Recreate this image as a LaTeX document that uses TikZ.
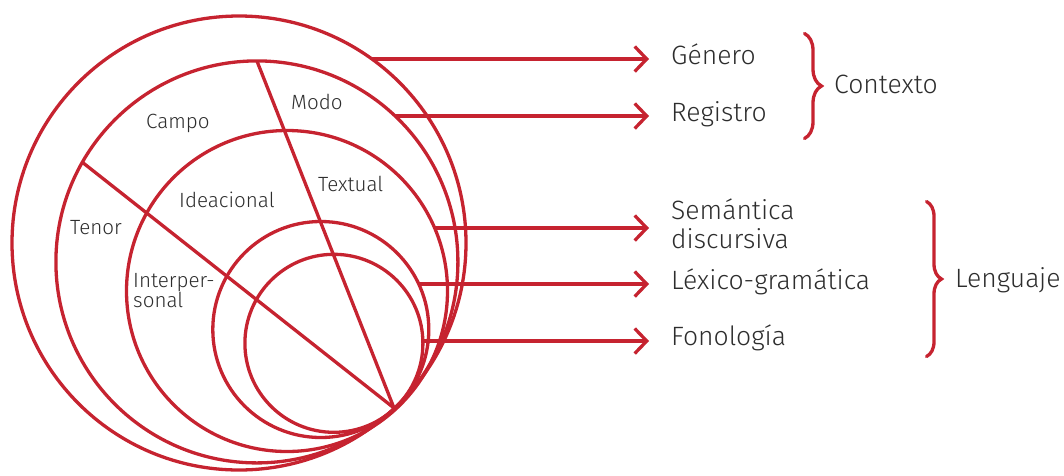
\documentclass[tikz,border=0pt]{standalone}
\usepackage{fontspec}
\setmainfont{Fira Sans}[UprightFont={* Light}]
\usetikzlibrary{arrows.meta,decorations.pathreplacing}
\definecolor{redline}{RGB}{198,35,48}
\definecolor{txt}{RGB}{45,45,45}
\begin{document}
\begin{tikzpicture}[x=1pt,y=-1pt,
  ring/.style={draw=redline,line width=3.3pt},
  ray/.style={draw=redline,line width=3.3pt},
  arr/.style={draw=redline,line width=3.3pt,-{Straight Barb[length=12pt,width=25pt]}},
  inlbl/.style={text=txt,font=\fontsize{20.6}{22}\selectfont,anchor=base west,inner sep=0pt},
  outlbl/.style={text=txt,font=\fontsize{26.5}{28}\selectfont,anchor=base west,inner sep=0pt},
  brc/.style={draw=redline,line width=3.3pt,line cap=round,decorate,decoration={brace,amplitude=#1}}]
\useasboundingbox (0,0) rectangle (1064,475);
% circles (all touching near the lower right)
\draw[ring] (239,243) circle[radius=227pt];
\draw[ring] (256.9,261.9) circle[radius=201pt];
\draw[ring] (287,291) circle[radius=160.5pt];
\draw[ring] (320.8,329.5) circle[radius=108pt];
\draw[ring] (333.9,343.3) circle[radius=89pt];
% dividing lines
\coordinate (v) at (394,408);
\coordinate (ta) at (256.9,60.9);
\coordinate (tb) at (82,162);
\draw[ray] (ta) -- (v);
\draw[ray] (tb) -- (v);
% labels inside
\node[inlbl] (campo) at (146,128) {Campo};
\node[inlbl] (modo) at (291,109) {Modo};
\node[inlbl] (textual) at (318,191) {Textual};
\node[inlbl] (idea) at (179,207) {Ideacional};
\node[inlbl] (tenor) at (70,234) {Tenor};
\node[inlbl] (inter1) at (133,287) {Interper-};
\node[inlbl] (inter2) at (133,307) {sonal};
% arrows
\coordinate (s1) at (371.9,59);   \coordinate (e1) at (649,59);
\coordinate (s2) at (395.2,116);  \coordinate (e2) at (649,116);
\coordinate (s3) at (434.6,228);  \coordinate (e3) at (649,228);
\coordinate (s4) at (418.7,284);  \coordinate (e4) at (649,284);
\coordinate (s5) at (422.9,341);  \coordinate (e5) at (649,341);
\draw[arr] (s1) -- (e1);
\draw[arr] (s2) -- (e2);
\draw[arr] (s3) -- (e3);
\draw[arr] (s4) -- (e4);
\draw[arr] (s5) -- (e5);
% labels right
\node[outlbl] (gen) at (671,64) {Género};
\node[outlbl] (reg) at (671,121) {Registro};
\node[outlbl] (sem1) at (671,219) {Semántica};
\node[outlbl] (sem2) at (671,248) {discursiva};
\node[outlbl] (lex) at (671,289) {Léxico-gramática};
\node[outlbl] (fon) at (671,345) {Fonología};
\node[outlbl] (ctx) at (834,93) {Contexto};
\node[outlbl] (len) at (955,287) {Lenguaje};
% braces
\coordinate (b1a) at (804.5,33.5); \coordinate (b1b) at (804.5,138.5);
\coordinate (b2a) at (926.5,201.5); \coordinate (b2b) at (926.5,356.5);
\draw[brc=17pt] (b1a) -- (b1b);
\draw[brc=15pt] (b2a) -- (b2b);
\end{tikzpicture}
\end{document}
